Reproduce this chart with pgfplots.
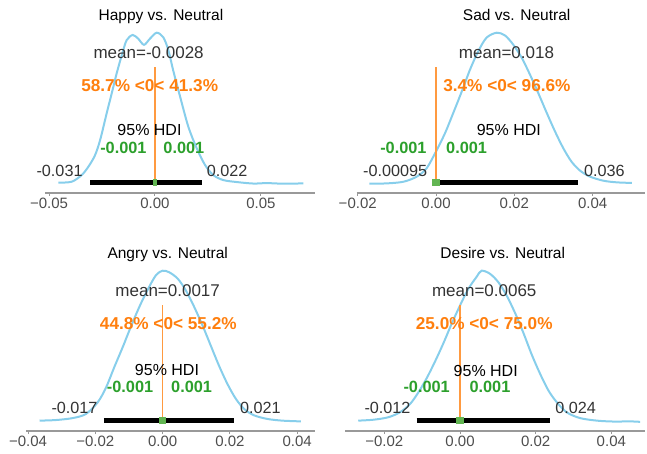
\documentclass[border=0pt]{standalone}
\usepackage{fontspec}
\setmainfont{Liberation Sans}
\usepackage{pgfplots}
\pgfplotsset{compat=1.18}
\definecolor{curve}{HTML}{87CEEB}
\definecolor{refor}{HTML}{FF7F0E}
\definecolor{reflc}{HTML}{FF9A40}
\definecolor{ropeg}{HTML}{2CA02C}
\definecolor{ropesq}{HTML}{62B552}
\definecolor{axgray}{HTML}{999999}
\definecolor{tickgray}{HTML}{4D4D4D}
\definecolor{txtgray}{HTML}{333333}
\pgfplotsset{
  panel/.style={
    scale only axis, clip=false,
    axis x line=bottom, axis y line=none,
    x axis line style={-, draw=axgray, line width=1.3pt},
    ymin=-0.0595, ymax=1.08,
    height=172.4pt,
    scaled x ticks=false,
    tick align=outside,
    xtick style={draw=axgray, line width=1pt},
    major tick length=3pt,
    /pgf/number format/assume math mode=true,
    xticklabel style={font=\fontsize{15}{18}\selectfont, text=tickgray, inner sep=1pt, yshift=-1pt},
  },
  dens/.style={draw=curve, line width=2pt, smooth, no markers},
  hdibar/.style={draw=black, line width=5pt, line cap=butt, no markers},
  refline/.style={draw=reflc, line width=1.7pt, no markers},
  rope/.style={draw=ropesq, line width=7.5pt, line cap=butt, no markers},
}
\newcommand{\ttl}[2]{\node[anchor=base, inner sep=0pt, font=\fontsize{15.5}{18}\selectfont] at (axis cs:#1,1.079) {#2};}
\tikzset{
  meantxt/.style={inner sep=0pt, text=txtgray, font=\fontsize{17}{19}\selectfont},
  reftxt/.style={inner sep=0pt, text=refor, font=\fontsize{17.2}{19}\selectfont\bfseries},
  hditxt/.style={inner sep=0pt, text=black, font=\fontsize{16}{19}\selectfont},
  ropetxt/.style={inner sep=0pt, text=ropeg, font=\fontsize{16.3}{19}\selectfont\bfseries},
  valtxt/.style={inner sep=0pt, text=txtgray, font=\fontsize{16.2}{19}\selectfont},
}
\begin{document}
\begin{tikzpicture}
\path[use as bounding box] (0,0) rectangle (647pt,-454pt);

% Panel 1: Happy vs. Neutral
\begin{axis}[panel, at={(45pt,-193pt)}, anchor=south west, width=270pt,
  xmin=-0.0519, xmax=0.0755,
  xtick={-0.05,0,0.05}, xticklabels={−0.05,0.00,0.05}]
\addplot[dens] coordinates {
(-0.0456,0.009) (-0.0393,0.015) (-0.0346,0.059) (-0.0314,0.115) (-0.0283,0.19)
(-0.0259,0.29) (-0.0228,0.467) (-0.0204,0.60) (-0.0181,0.73) (-0.0157,0.85)
(-0.0134,0.95) (-0.0105,0.985) (-0.0079,0.96) (-0.0052,0.92) (-0.0024,0.96)
(0.0008,1.0) (0.0039,0.97) (0.0063,0.885) (0.0086,0.75) (0.0118,0.58)
(0.0157,0.38) (0.0197,0.236) (0.0236,0.126) (0.0275,0.059) (0.0322,0.026)
(0.0385,0.013) (0.0464,0.003) (0.0527,0.006) (0.0605,0.002) (0.070,0.004)};
\addplot[hdibar] coordinates {(-0.0305,0.0086) (0.022,0.0086)};
\addplot[refline] coordinates {(0,0.0086) (0,0.773)};
\addplot[rope] coordinates {(-0.001,0.0086) (0.001,0.0086)};
\ttl{0.0028}{Happy vs. Neutral}
\node[meantxt] at (axis cs:-0.0030,0.866) {mean=-0.0028};
\node[reftxt] at (axis cs:-0.0025,0.648) {58.7\% <0< 41.3\%};
\node[hditxt] at (axis cs:-0.0026,0.357) {95\% HDI};
\node[ropetxt, anchor=east] at (axis cs:-0.0039,0.238) {-0.001};
\node[ropetxt, anchor=west] at (axis cs:0.0039,0.238) {0.001};
\node[valtxt, anchor=east] at (axis cs:-0.0341,0.086) {-0.031};
\node[valtxt, anchor=west] at (axis cs:0.0244,0.086) {0.022};
\end{axis}

% Panel 2: Sad vs. Neutral
\begin{axis}[panel, at={(356.7pt,-193pt)}, anchor=south west, width=288.3pt,
  xmin=-0.02026, xmax=0.05338,
  xtick={-0.02,0,0.02,0.04}, xticklabels={−0.02,0.00,0.02,0.04}]
\addplot[dens] coordinates {
(-0.0170,0.002) (-0.0126,0.004) (-0.0083,0.015) (-0.0049,0.049) (-0.0024,0.104)
(0.0,0.215) (0.0023,0.336) (0.0044,0.469) (0.0066,0.613) (0.0087,0.757)
(0.0108,0.878) (0.0129,0.967) (0.0155,1.0) (0.0176,0.982) (0.0197,0.922)
(0.0219,0.834) (0.0240,0.723) (0.0261,0.602) (0.0283,0.469) (0.0304,0.347)
(0.0325,0.237) (0.0346,0.148) (0.0368,0.088) (0.0393,0.049) (0.0427,0.022)
(0.0461,0.011) (0.0500,0.007)};
\addplot[hdibar] coordinates {(-0.00095,0.0086) (0.0363,0.0086)};
\addplot[refline] coordinates {(0,0.0086) (0,0.773)};
\addplot[rope] coordinates {(-0.001,0.0086) (0.001,0.0086)};
\ttl{0.0206}{Sad vs. Neutral}
\node[meantxt] at (axis cs:0.0180,0.866) {mean=0.018};
\node[reftxt] at (axis cs:0.0181,0.648) {3.4\% <0< 96.6\%};
\node[hditxt] at (axis cs:0.0186,0.357) {95\% HDI};
\node[ropetxt, anchor=east] at (axis cs:-0.00238,0.238) {-0.001};
\node[ropetxt, anchor=west] at (axis cs:0.00255,0.238) {0.001};
\node[valtxt, anchor=east] at (axis cs:-0.00222,0.086) {-0.00095};
\node[valtxt, anchor=west] at (axis cs:0.0378,0.086) {0.036};
\end{axis}

% Panel 3: Angry vs. Neutral
\begin{axis}[panel, at={(26.4pt,-431pt)}, anchor=south west, width=288.6pt,
  xmin=-0.0405, xmax=0.0453,
  xtick={-0.04,-0.02,0,0.02,0.04}, xticklabels={−0.04,−0.02,0.00,0.02,0.04}]
\addplot[dens] coordinates {
(-0.0366,0.009) (-0.0317,0.013) (-0.0267,0.026) (-0.0228,0.053) (-0.0193,0.130)
(-0.0168,0.229) (-0.0144,0.361) (-0.0119,0.493) (-0.0094,0.632) (-0.0069,0.762)
(-0.0045,0.872) (-0.0020,0.97) (0.0,1.0) (0.0020,0.989) (0.0045,0.947)
(0.0069,0.87) (0.0094,0.76) (0.0119,0.636) (0.0144,0.5) (0.0168,0.37)
(0.0193,0.25) (0.0218,0.152) (0.0243,0.085) (0.0272,0.044) (0.0312,0.02)
(0.0356,0.009) (0.0411,0.004)};
\addplot[hdibar] coordinates {(-0.0175,0.0112) (0.0213,0.0112)};
\addplot[refline] coordinates {(0,0.0112) (0,0.771)};
\addplot[rope] coordinates {(-0.001,0.0112) (0.001,0.0112)};
\ttl{0.0015}{Angry vs. Neutral}
\node[meantxt] at (axis cs:0.0015,0.870) {mean=0.0017};
\node[reftxt] at (axis cs:0.0017,0.650) {44.8\% <0< 55.2\%};
\node[hditxt] at (axis cs:0.0013,0.342) {95\% HDI};
\node[ropetxt, anchor=east] at (axis cs:-0.00276,0.231) {-0.001};
\node[ropetxt, anchor=west] at (axis cs:0.0025,0.231) {0.001};
\node[valtxt, anchor=east] at (axis cs:-0.0193,0.0925) {-0.017};
\node[valtxt, anchor=west] at (axis cs:0.0230,0.0925) {0.021};
\end{axis}

% Panel 4: Desire vs. Neutral
\begin{axis}[panel, at={(345pt,-431pt)}, anchor=south west, width=300pt,
  xmin=-0.0304, xmax=0.0489,
  xtick={-0.02,0,0.02,0.04}, xticklabels={−0.02,0.00,0.02,0.04}]
\addplot[dens] coordinates {
(-0.0269,0.009) (-0.0229,0.015) (-0.0190,0.031) (-0.0159,0.064) (-0.0132,0.119)
(-0.0110,0.196) (-0.0088,0.29) (-0.0066,0.40) (-0.0044,0.52) (-0.0022,0.65)
(0.0,0.77) (0.0022,0.88) (0.0044,0.96) (0.0057,1.0) (0.0079,0.98)
(0.0101,0.925) (0.0123,0.837) (0.0146,0.718) (0.0168,0.586) (0.0190,0.443)
(0.0212,0.317) (0.0234,0.207) (0.0256,0.13) (0.0282,0.064) (0.0317,0.026)
(0.0362,0.009) (0.0406,0.003) (0.0450,0.004) (0.0476,0.001)};
\addplot[hdibar] coordinates {(-0.0115,0.0112) (0.0238,0.0112)};
\addplot[refline] coordinates {(0,0.0112) (0,0.771)};
\addplot[rope] coordinates {(-0.001,0.0112) (0.001,0.0112)};
\ttl{0.0113}{Desire vs. Neutral}
\node[meantxt] at (axis cs:0.0064,0.870) {mean=0.0065};
\node[reftxt] at (axis cs:0.0064,0.650) {25.0\% <0< 75.0\%};
\node[hditxt] at (axis cs:0.0068,0.335) {95\% HDI};
\node[ropetxt, anchor=east] at (axis cs:-0.00265,0.231) {-0.001};
\node[ropetxt, anchor=west] at (axis cs:0.00247,0.231) {0.001};
\node[valtxt, anchor=east] at (axis cs:-0.01305,0.0925) {-0.012};
\node[valtxt, anchor=west] at (axis cs:0.02513,0.0925) {0.024};
\end{axis}
\end{tikzpicture}
\end{document}
